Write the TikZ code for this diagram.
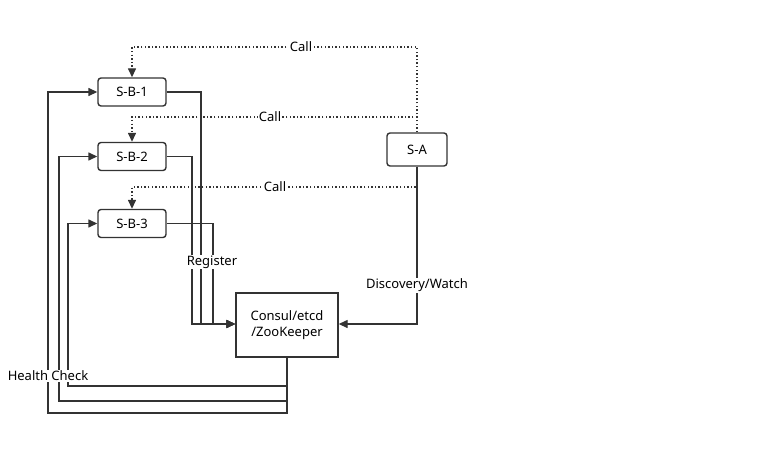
\documentclass[tikz,border=0pt]{standalone}
\usepackage{fontspec}
\setmainfont{Noto Sans}
\usetikzlibrary{arrows.meta}
\begin{document}
\begin{tikzpicture}[x=1pt,y=-1pt,
  svc/.style={draw=black!80,line width=1.4pt,rounded corners=3pt,minimum width=68pt,minimum height=28pt,inner sep=0pt,font=\fontsize{13}{15}\selectfont},
  store/.style={draw=black!80,line width=1.4pt,minimum width=102pt,minimum height=64pt,inner sep=0pt,align=center,font=\fontsize{13}{16}\selectfont},
  wire/.style={draw=black!80,line width=1.4pt},
  arr/.style={-{Triangle[length=9pt,width=8pt]}},
  calls/.style={draw=black!80,line width=1.4pt,dash pattern=on 1.4pt off 2.2pt},
  lbl/.style={fill=white,inner sep=1pt,font=\fontsize{13}{15}\selectfont}]
\useasboundingbox (0,0) rectangle (779,476);
\node[svc] (b1) at (132,92) {S-B-1};
\node[svc] (b2) at (132,156.5) {S-B-2};
\node[svc] (b3) at (132,223.5) {S-B-3};
\node[svc,minimum width=60pt,minimum height=33pt] (sa) at (417,149.5) {S-A};
\node[store] (st) at (287,325) {Consul/etcd\\/ZooKeeper};
% calls
\draw[calls,arr] (sa.north) |- (132,47) -- (b1.north);
\draw[calls,arr] (417,117) -- (132,117) -- (b2.north);
\draw[calls,arr] (sa.south) |- (132,187) -- (b3.north);
\node[lbl] (c1) at (301,47) {Call};
\node[lbl] (c2) at (270,117) {Call};
\node[lbl] (c3) at (275,187) {Call};
% register
\draw[wire,arr] (b1.east) -| (201,324) -- (st.west |- 0,324);
\draw[wire,arr] (b2.east) -| (192,324) -- (st.west |- 0,324);
\draw[wire,arr] (b3.east) -| (213,324) -- (st.west |- 0,324);
\node[lbl] (reg) at (212,262) {Register};
% discovery
\draw[wire,arr] (sa.south) -- (417,324) -- (st.east |- 0,324);
\node[lbl] (disc) at (417,285) {Discovery/Watch};
% health check
\draw[wire,arr] (st.south) -- (287,386) -| (68,223.5) -- (b3.west);
\draw[wire,arr] (st.south) -- (287,401) -| (59,156.5) -- (b2.west);
\draw[wire,arr] (st.south) -- (287,413) -| (48,92) -- (b1.west);
\node[lbl] (hc) at (48,376) {Health Check};
\end{tikzpicture}
\end{document}
